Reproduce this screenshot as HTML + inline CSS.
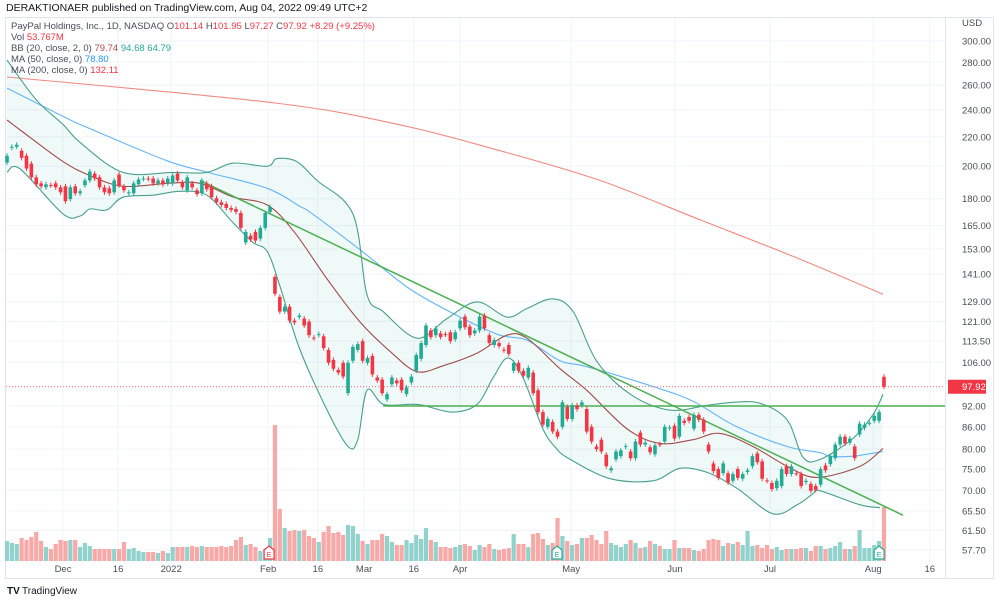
<!DOCTYPE html>
<html><head><meta charset="utf-8">
<style>
html,body{margin:0;padding:0;background:#fff;width:1000px;height:601px;overflow:hidden;font-family:"Liberation Sans",sans-serif;}
svg{position:absolute;left:0;top:0}
</style></head>
<body>
<svg id="chart" width="1000" height="601" viewBox="0 0 1000 601">
  <text x="6" y="11" font-size="10.5" fill="#131722">DERAKTIONAER published on TradingView.com, Aug 04, 2022 09:49 UTC+2</text>
  <rect x="5.5" y="17.5" width="988" height="561" fill="none" stroke="#e0e3eb"/>
  <line x1="945.5" y1="18" x2="945.5" y2="578" stroke="#e0e3eb"/>
  <g id="grid"></g>
  <g id="vol"></g>
  <g id="ind"></g>
  <g id="candles"></g>
  <g id="axes"></g>
  <g font-size="9.5" fill="#4a4e5a">
    <text x="11" y="29">PayPal Holdings, Inc., 1D, NASDAQ <tspan fill="#4a4e5a">O</tspan><tspan fill="#f23645">101.14</tspan> <tspan>H</tspan><tspan fill="#f23645">101.95</tspan> <tspan>L</tspan><tspan fill="#f23645">97.27</tspan> <tspan>C</tspan><tspan fill="#f23645">97.92</tspan> <tspan fill="#f23645">+8.29 (+9.25%)</tspan></text>
    <text x="11" y="40">Vol <tspan fill="#f23645">53.767M</tspan></text>
    <text x="11" y="51">BB (20, close, 2, 0) <tspan fill="#b5474a">79.74</tspan> <tspan fill="#22ab94">94.68</tspan> <tspan fill="#22ab94">64.79</tspan></text>
    <text x="11" y="62">MA (50, close, 0) <tspan fill="#2196f3">78.80</tspan></text>
    <text x="11" y="73">MA (200, close, 0) <tspan fill="#f23645">132.11</tspan></text>
  </g>
  <g>
    <text x="7" y="594" font-size="10" font-weight="bold" fill="#131722">TV</text>
    <text x="22" y="594" font-size="10" fill="#131722">TradingView</text>
  </g>
</svg>
<script>
const opens=[202.3,212.3,213.0,210.3,206.9,201.7,192.9,189.2,186.8,188.2,189.2,186.8,187.4,179.8,187.4,183.2,188.0,191.0,195.3,192.9,186.8,186.2,183.8,194.7,187.4,183.2,183.2,188.6,192.0,192.2,192.2,189.2,191.0,189.2,189.2,195.3,189.8,185.0,189.2,185.0,183.2,189.2,187.4,180.3,178.0,177.0,174.7,174.1,171.9,156.2,159.7,161.7,158.2,163.8,172.5,139.7,131.0,124.9,126.9,121.3,122.7,122.1,120.9,114.8,115.8,115.3,110.3,106.8,103.4,105.8,95.9,106.5,110.3,113.5,105.8,108.2,100.9,100.2,94.0,98.7,99.9,100.2,95.6,99.3,103.1,107.2,112.1,117.5,115.7,116.4,116.1,116.8,114.2,118.3,122.9,119.0,116.4,117.5,123.3,115.7,112.1,112.8,110.4,112.1,103.1,105.8,103.1,100.9,102.5,96.8,90.2,86.0,87.4,84.7,86.0,91.7,88.2,92.2,92.2,91.1,86.0,80.7,82.5,78.6,74.7,77.4,78.2,80.6,79.4,77.7,84.4,81.2,80.5,78.7,81.3,82.0,85.7,86.3,83.3,87.7,88.8,85.5,89.4,88.0,81.2,76.4,75.0,74.0,74.0,72.2,75.0,72.7,74.3,75.7,78.9,76.9,72.3,71.7,70.5,71.0,75.7,73.8,74.0,73.8,71.9,71.5,71.0,71.3,75.9,76.2,77.7,81.2,83.3,81.7,80.7,83.9,85.7,87.0,87.7,87.7,101.14];
const closes=[206.9,213.0,214.4,205.5,198.5,192.9,188.6,187.4,188.6,188.0,186.8,183.8,178.6,186.8,183.2,184.4,191.0,196.6,192.2,186.8,183.8,183.2,191.0,188.0,185.0,183.8,189.2,191.6,192.2,192.0,189.2,191.0,188.6,192.2,194.1,191.0,186.8,192.9,186.8,182.7,191.0,185.6,180.9,178.0,176.4,174.7,173.6,172.5,163.8,161.7,157.7,157.2,163.8,171.9,175.3,132.3,124.9,126.9,121.3,120.6,123.3,119.4,115.7,114.6,116.1,111.0,105.8,103.8,102.5,101.2,105.8,111.4,112.4,106.5,107.5,101.9,99.9,95.9,95.6,100.9,99.0,96.8,97.7,101.2,108.5,112.8,119.4,115.0,118.3,115.0,116.0,113.5,116.8,121.3,118.7,115.7,117.5,122.9,118.3,112.8,113.9,111.7,110.2,108.9,105.8,103.1,101.5,104.1,95.9,90.2,86.6,88.2,84.7,83.3,93.1,88.2,92.2,91.1,93.1,84.7,82.0,80.0,79.4,75.7,75.2,79.4,79.7,80.8,77.7,82.0,81.2,81.7,79.2,81.0,81.2,86.0,85.8,82.8,89.1,87.1,87.7,89.4,88.0,84.7,79.4,74.5,72.9,76.4,71.8,73.8,72.9,73.8,74.7,78.2,76.7,72.7,72.2,70.3,72.2,75.0,73.8,75.7,73.9,71.0,72.2,69.9,70.1,75.0,74.7,78.2,81.2,83.3,81.5,82.8,77.7,86.9,86.6,87.1,89.1,90.2,97.92];
const volumes=[20,18,17,23,21,24,29,20,14,12,17,21,20,21,21,14,18,15,12,12,12,12,12,12,19,12,13,10,9,9,9,8,10,8,14,14,14,14,15,14,15,14,14,14,15,14,15,21,24,16,17,14,10,12,23,136,52,33,30,31,30,31,25,23,19,29,35,28,29,26,36,35,27,20,17,21,21,27,25,19,16,16,21,18,26,22,33,21,19,14,14,13,14,16,17,15,11,16,14,17,12,11,12,13,27,17,17,14,27,28,22,16,18,43,25,20,16,17,23,23,26,21,17,30,18,16,14,17,21,18,13,14,20,17,15,12,12,21,13,13,13,11,10,12,21,22,21,15,18,17,19,16,30,15,16,13,16,12,14,11,12,12,12,13,13,10,15,15,12,13,15,19,12,12,15,31,13,13,16,20,54];
const bbUpper=[[0,282],[6,248],[11.5,229],[15,216],[23.8,196],[34,196],[41,196],[46.4,202],[53.4,200],[55.4,205],[59.5,203],[63.6,191],[71,171.4],[73.9,131.9],[77.2,124.9],[84.2,114.6],[90.3,122.1],[96.5,128.9],[102.6,122.7],[106.7,126.1],[112,130.2],[116.2,124.9],[121,106.5],[127.9,95.6],[136,90.8],[143.7,92.2],[149,93.1],[154.6,92.8],[160.1,88.0],[163.4,77.9],[166.9,77.4],[173.6,82.8],[177.8,89.6],[179.8,95.6]];
const bbLower=[[0,196.2],[2.7,198.2],[11.5,171.4],[15,170.2],[17,174.1],[20.5,173.6],[23.8,180.9],[30,182.1],[35.5,184.4],[41,182.1],[46.4,166.5],[50.5,156.2],[53.4,151.8],[56,135.8],[60,111.0],[65.7,90.8],[70,80.7],[72,82.5],[73.9,96.8],[77.2,92.5],[82.7,92.5],[85.4,92.2],[91.5,90.2],[96.5,92.5],[99.8,100.9],[102.8,107.5],[105.9,100.9],[110,85.4],[112.9,80.0],[115.6,77.4],[123.8,72.7],[132.6,72.2],[138.1,75.2],[143.7,74.2],[149.8,70.5],[157.2,64.9],[162.2,66.8],[165.4,69.2],[166.9,69.9],[175.1,66.8],[179.2,66.2]];
const bbBasis=[[0,232.3],[2.7,224.9],[11.5,203],[17,194.1],[23.8,187.4],[33,189.2],[39.6,189.2],[46.4,181],[53.4,176.4],[59,161.5],[65.7,138.8],[72.4,120.9],[79.2,108.9],[84.2,102.8],[89.5,104.8],[96.5,109.2],[102.6,115.7],[106.7,114.6],[113.5,103.8],[119,96.8],[127.3,85.4],[134,81.5],[140.8,82.5],[146.3,84.2],[153.1,80.7],[160.1,75.7],[166.2,73.0],[175.1,75.7],[179.8,80.2]];
const ma50=[[0,257.6],[13,232.3],[17.7,224.9],[32.8,203.6],[41,196.2],[53.4,186.2],[60,175.8],[62.7,171.4],[72.9,151.8],[82.7,134.4],[93,122.7],[101.2,115.7],[106.7,113.9],[113.5,106.5],[119,104.5],[132.6,98.0],[140.8,93.4],[149.8,86.0],[160.1,80.7],[166.9,79.1],[168.9,78.2],[173.6,78.2],[179.8,79.4]];
const ma200=[[0,267.0],[55,245.4],[80.7,228.6],[101.2,210.3],[121.7,191.0],[142.3,168.1],[162.8,148],[179.8,132.1]];
const trendDown=[[39.6,191],[183.9,64.6]];
const supportLevel=92;
const supportStart=77.2;
const lastPrice=97.92;
const yTicks=[300,280,260,240,220,200,180,165,153,141,129,121,113.5,106,92,86,80,75,70,65.5,61.5,57.7];
const xTickIdx=[11.5,22.8,33.7,53.6,63.8,73.3,83.5,93,115.8,137.1,156.6,177.8,189.4];
const xTickLabels=["Dec","16","2022","Feb","16","Mar","16","Apr","May","Jun","Jul","Aug","16"];
const earningsIdx=[53.8,112.9,179];

const NS="http://www.w3.org/2000/svg";
const X=i=>7+i*4.872;
const Y=p=>41+(Math.log(300)-Math.log(p))*308.8;
const VBASE=561;
function mk(tag,attrs,parent){const e=document.createElementNS(NS,tag);for(const k in attrs)e.setAttribute(k,attrs[k]);parent.appendChild(e);return e;}
const grid=document.getElementById('grid'),axes=document.getElementById('axes'),vol=document.getElementById('vol'),ind=document.getElementById('ind'),cg=document.getElementById('candles');

yTicks.forEach(p=>{
  const l=mk('line',{x1:6,x2:945,y1:Y(p),y2:Y(p),stroke:'#f0f3fa'},grid);
  
  
  const t=mk('text',{x:962,y:Y(p)+3.5,'font-size':9.5,fill:'#4a4e5a'},axes);
  t.textContent=p.toFixed(2);
  
  
});
const usd=mk('text',{x:962,y:26,'font-size':9.5,fill:'#4a4e5a'},axes);usd.textContent='USD';


xTickIdx.forEach((i,k)=>{
  const l=mk('line',{x1:X(i),x2:X(i),y1:18,y2:561,stroke:'#f0f3fa'},grid);
  
  
  const t=mk('text',{x:X(i),y:572,'font-size':9.5,fill:'#4a4e5a','text-anchor':'middle'},axes);
  t.textContent=xTickLabels[k];
  
  
});

volumes.forEach((v,i)=>{
  const up=closes[i]>=opens[i];
  const r=mk('rect',{x:X(i)-2.1,y:VBASE-v,width:4.2,height:v,fill:up?'#92d2cc':'#f7a9a7'},vol);
  
  
});

function smooth(arr,first){
  const pts=arr.map(d=>[X(d[0]),Y(d[1])]);
  let s=(first?'M':'L')+pts[0][0].toFixed(1)+','+pts[0][1].toFixed(1);
  for(let k=0;k<pts.length-1;k++){
    const p0=pts[Math.max(0,k-1)],p1=pts[k],p2=pts[k+1],p3=pts[Math.min(pts.length-1,k+2)];
    const c1=[p1[0]+(p2[0]-p0[0])/6,p1[1]+(p2[1]-p0[1])/6];
    const c2=[p2[0]-(p3[0]-p1[0])/6,p2[1]-(p3[1]-p1[1])/6];
    s+=` C${c1[0].toFixed(1)},${c1[1].toFixed(1)} ${c2[0].toFixed(1)},${c2[1].toFixed(1)} ${p2[0].toFixed(1)},${p2[1].toFixed(1)}`;
  }
  return s;
}
function path(arr){return arr.map((d,k)=>(k?'L':'M')+X(d[0]).toFixed(1)+','+Y(d[1]).toFixed(1)).join(' ');}
const fillD=smooth(bbUpper,true)+' '+smooth(bbLower.slice().reverse(),false)+'Z';
const bf=mk('path',{d:fillD,fill:'rgba(34,171,148,0.07)',stroke:'none'},ind);


const lines=[[ma200,'#f08a82','ma200-line'],[ma50,'#64b5f6','ma50-line'],[bbUpper,'#48a08c','bb-upper'],[bbLower,'#48a08c','bb-lower'],[bbBasis,'#a34b4b','bb-basis']];
lines.forEach(([a,c,n])=>{
  const p=mk('path',{d:smooth(a,true),fill:'none',stroke:c,'stroke-width':1.1},ind);
  
  
});
const td=mk('path',{d:path(trendDown),stroke:'#4caf50','stroke-width':1.5,fill:'none'},ind);


const sl=mk('line',{x1:X(supportStart),x2:945,y1:Y(supportLevel),y2:Y(supportLevel),stroke:'#4caf50','stroke-width':1.5},ind);


const pl=mk('line',{x1:6,x2:945,y1:Y(lastPrice),y2:Y(lastPrice),stroke:'#f23645','stroke-width':0.8,'stroke-dasharray':'1,2'},ind);


const pb=mk('rect',{x:948,y:Y(lastPrice)-7,width:38,height:14,fill:'#f23645'},axes);


const pt=mk('text',{x:962,y:Y(lastPrice)+3.5,'font-size':9.5,fill:'#fff'},axes);
pt.textContent=lastPrice.toFixed(2);



opens.forEach((o,i)=>{
  const c=closes[i],up=c>=o,col=up?'#22ab94':'#f23645';
  const top=Math.min(Y(o),Y(c)),bot=Math.max(Y(o),Y(c));
  const w=mk('line',{x1:X(i),x2:X(i),y1:top-2.5,y2:bot+2.5,stroke:col,'stroke-width':1},cg);
  
  
  const b=mk('rect',{x:X(i)-1.8,y:top,width:3.6,height:Math.max(1,bot-top),fill:col},cg);
  
  
});

earningsIdx.forEach((i,k)=>{
  const col=k===0?'#f23645':'#22ab94';
  const g=mk('g',{},axes);
  
  
  const x=X(i);
  mk('path',{d:`M${x-5},550 L${x},546 L${x+5},550 L${x+5},559 L${x-5},559 Z`,fill:'#fff',stroke:col,'stroke-width':1.2},g);
  const t=mk('text',{x:x,y:557,'font-size':7,fill:col,'text-anchor':'middle'},g);t.textContent='E';
});
</script>
</body></html>
